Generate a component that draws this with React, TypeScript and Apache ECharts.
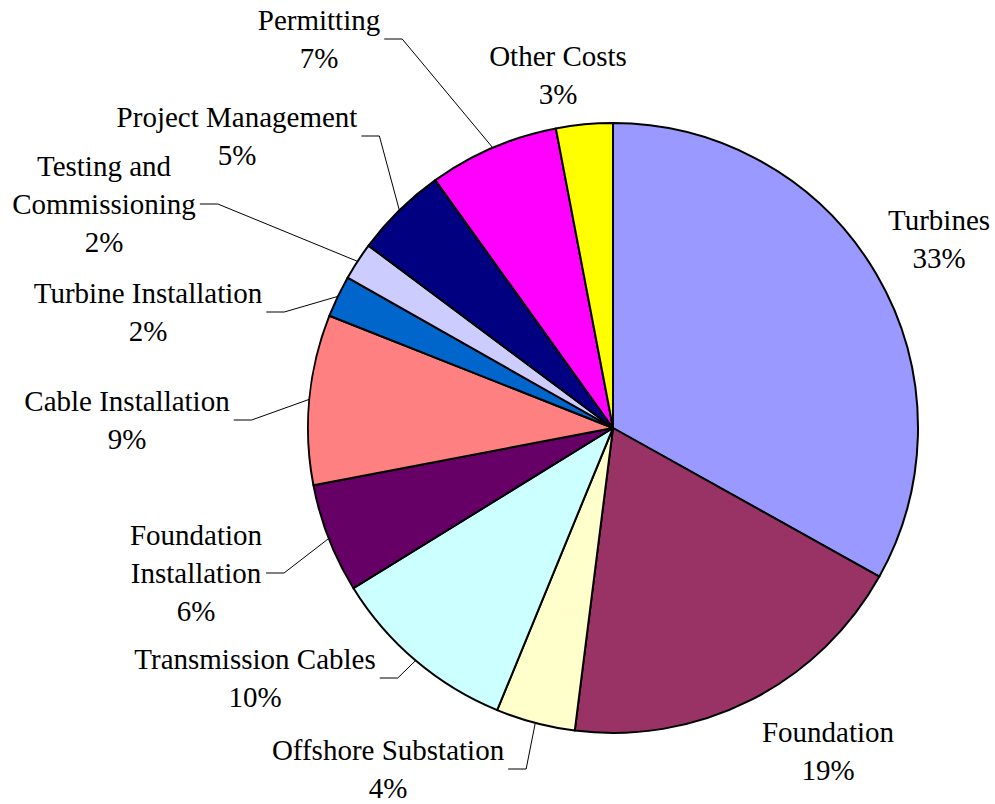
import React, { useEffect, useRef } from 'react';
import * as echarts from 'echarts';

const categories = [
  'Turbines',
  'Foundation',
  'Offshore Substation',
  'Transmission Cables',
  'Foundation\nInstallation',
  'Cable Installation',
  'Turbine Installation',
  'Testing and\nCommissioning',
  'Project Management',
  'Permitting',
  'Other Costs',
];
const values = [33.1, 18.9, 4.2, 10.0, 5.8, 9.0, 2.2, 2.0, 4.9, 6.9, 3.0];
const colors = [
  '#9999FF', '#993366', '#FFFFCC', '#CCFFFF', '#660066', '#FF8080',
  '#0066CC', '#CCCCFF', '#000080', '#FF00FF', '#FFFF00',
];
const hasLeader = [false, false, true, true, true, true, true, true, true, true, false];
// label block centres (layout only)
const labelCenters: number[][] = [
  [939, 239], [828, 751], [388, 769], [255, 678], [196, 573], [127, 420],
  [148, 312], [104, 204], [237, 136], [319, 39], [558, 75],
];

export default function App() {
  const ref = useRef<HTMLDivElement>(null);
  useEffect(() => {
    if (!ref.current) return;
    const chart = echarts.init(ref.current, undefined, { renderer: 'svg' });
    const option: any = {
      animation: false,
      backgroundColor: '#ffffff',
      series: [
        {
          type: 'pie',
          center: [613, 428],
          radius: 305,
          startAngle: 90,
          clockwise: true,
          avoidLabelOverlap: false,
          silent: true,
          emphasis: { disabled: true },
          itemStyle: { borderColor: '#000000', borderWidth: 2 },
          data: categories.map((n, i) => ({
            name: n,
            value: values[i],
            itemStyle: { color: colors[i] },
            labelLine: { show: hasLeader[i] },
          })),
          label: {
            show: true,
            position: 'outside',
            formatter: (p: any) => `${p.name}\n${Math.round(p.percent)}%`,
            fontFamily: 'Liberation Serif',
            fontSize: 29,
            lineHeight: 38,
            color: '#000000',
            align: 'center',
          },
          labelLine: {
            show: true,
            length: 10,
            length2: 10,
            smooth: false,
            lineStyle: { color: '#000000', width: 1 },
          },
          labelLayout: (params: any) => {
            const i = params.dataIndex;
            const [cx, cy] = labelCenters[i];
            const w = params.labelRect ? params.labelRect.width : 0;
            const res: any = { x: cx, y: cy, align: 'center', verticalAlign: 'middle' };
            if (hasLeader[i] && params.labelLinePoints) {
              const start = params.labelLinePoints[0];
              const endX = cx + w / 2 + 4;
              res.labelLinePoints = [start, [endX + 18, cy], [endX, cy]];
            }
            return res;
          },
        },
      ],
    };
    chart.setOption(option);
    return () => chart.dispose();
  }, []);
  return (
    <div
      ref={ref}
      style={{ position: 'absolute', left: 0, top: 0, width: 995, height: 804 }}
    />
  );
}
